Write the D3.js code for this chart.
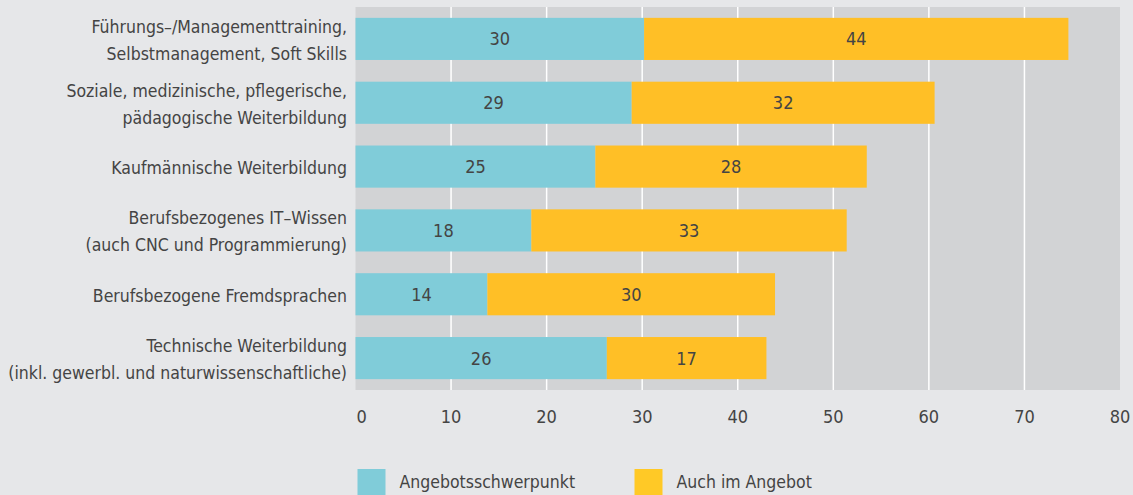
<!DOCTYPE html>
<html>
<head>
<meta charset="utf-8">
<script src="https://cdn.jsdelivr.net/npm/d3@7"></script>
<style>
  html, body { margin: 0; padding: 0; background: #E6E7E9; }
  svg { display: block; }
  text { font-family: "DejaVu Sans Condensed", "Liberation Sans Narrow", sans-serif; fill: #444; }
</style>
</head>
<body>
<div id="chart"></div>
<script>
// categories, each with its label lines
var categories = [
  ["Führungs–/Managementtraining,", "Selbstmanagement, Soft Skills"],
  ["Soziale, medizinische, pflegerische,", "pädagogische Weiterbildung"],
  ["Kaufmännische Weiterbildung"],
  ["Berufsbezogenes IT–Wissen", "(auch CNC und Programmierung)"],
  ["Berufsbezogene Fremdsprachen"],
  ["Technische Weiterbildung", "(inkl. gewerbl. und naturwissenschaftliche)"]
];
// series values (labels are rounded)
var schwerpunkt = [30.2, 28.9, 25.1, 18.4, 13.8, 26.3];
var auchAngebot = [44.4, 31.7, 28.4, 33.0, 30.1, 16.7];
var seriesNames = ["Angebotsschwerpunkt", "Auch im Angebot"];
var xTicks = [0, 10, 20, 30, 40, 50, 60, 70, 80];

var TEAL = "#80CCD9";
var YELLOW = "#FFBF26";

var W = 1133, H = 495;
var margin = {top: 7, right: 13, bottom: 105, left: 355.5};
var width = W - margin.left - margin.right;
var height = H - margin.top - margin.bottom;

var svg = d3.select("#chart")
  .append("svg")
    .attr("width", W)
    .attr("height", H);

svg.append("rect")
    .attr("width", W).attr("height", H)
    .attr("fill", "#E6E7E9");

var g = svg.append("g")
    .attr("transform", "translate(" + margin.left + "," + margin.top + ")");

var x = d3.scaleLinear().domain([0, 80]).range([0, width]);
var y = d3.scaleBand()
    .domain(d3.range(categories.length))
    .range([0, height])
    .paddingInner(0.34)
    .paddingOuter(0.17);

// plot background
g.append("rect")
    .attr("x", 0).attr("y", 0)
    .attr("width", width).attr("height", height)
    .attr("fill", "#D2D3D5");

// gridlines
g.selectAll(".grid")
  .data(xTicks.filter(function(d) { return d > 0 && d < 80; }))
  .enter().append("line")
    .attr("x1", function(d) { return x(d); })
    .attr("x2", function(d) { return x(d); })
    .attr("y1", 0).attr("y2", height)
    .attr("stroke", "#fff")
    .attr("stroke-width", 1.5);

// bars
var rows = g.selectAll(".row")
  .data(categories)
  .enter().append("g")
    .attr("transform", function(d, i) { return "translate(0," + y(i) + ")"; });

rows.append("rect")
    .attr("x", 0)
    .attr("width", function(d, i) { return x(schwerpunkt[i]); })
    .attr("height", y.bandwidth())
    .attr("fill", TEAL);

rows.append("rect")
    .attr("x", function(d, i) { return x(schwerpunkt[i]); })
    .attr("width", function(d, i) { return x(auchAngebot[i]); })
    .attr("height", y.bandwidth())
    .attr("fill", YELLOW);

rows.append("text")
    .attr("x", function(d, i) { return x(schwerpunkt[i] / 2); })
    .attr("y", y.bandwidth() / 2)
    .attr("dy", "0.36em")
    .attr("text-anchor", "middle")
    .attr("font-size", "18px")
    .text(function(d, i) { return Math.round(schwerpunkt[i]); });

rows.append("text")
    .attr("x", function(d, i) { return x(schwerpunkt[i] + auchAngebot[i] / 2); })
    .attr("y", y.bandwidth() / 2)
    .attr("dy", "0.36em")
    .attr("text-anchor", "middle")
    .attr("font-size", "18px")
    .text(function(d, i) { return Math.round(auchAngebot[i]); });

// category labels
rows.append("text")
    .attr("text-anchor", "end")
    .attr("font-size", "17.5px")
    .selectAll("tspan")
    .data(function(d) { return d; })
    .enter().append("tspan")
      .attr("x", -8.5)
      .attr("y", function(d, j, nodes) {
        var n = nodes.length;
        return y.bandwidth() / 2 + 1 + (j - (n - 1) / 2) * 27;
      })
      .attr("dy", "0.36em")
      .text(function(d) { return d; });

// x axis labels
g.selectAll(".xlab")
  .data(xTicks)
  .enter().append("text")
    .attr("x", function(d) { return d === 0 ? x(d) + 1 : x(d); })
    .attr("y", height + 27)
    .attr("dy", "0.36em")
    .attr("text-anchor", function(d) { return d === 0 ? "start" : "middle"; })
    .attr("font-size", "18px")
    .text(function(d) { return d; });

// legend
var legendX = [0, 277];
var legend = g.selectAll(".legend")
  .data(seriesNames)
  .enter().append("g")
    .attr("transform", function(d, i) { return "translate(" + (legendX[i] + 2) + "," + (height + 79) + ")"; });

legend.append("rect")
    .attr("width", 28).attr("height", 28)
    .attr("fill", function(d, i) { return i === 0 ? TEAL : "#FFC926"; });

legend.append("text")
    .attr("x", 42)
    .attr("y", 13)
    .attr("dy", "0.36em")
    .attr("font-size", "17.5px")
    .text(function(d) { return d; });
</script>
</body>
</html>
